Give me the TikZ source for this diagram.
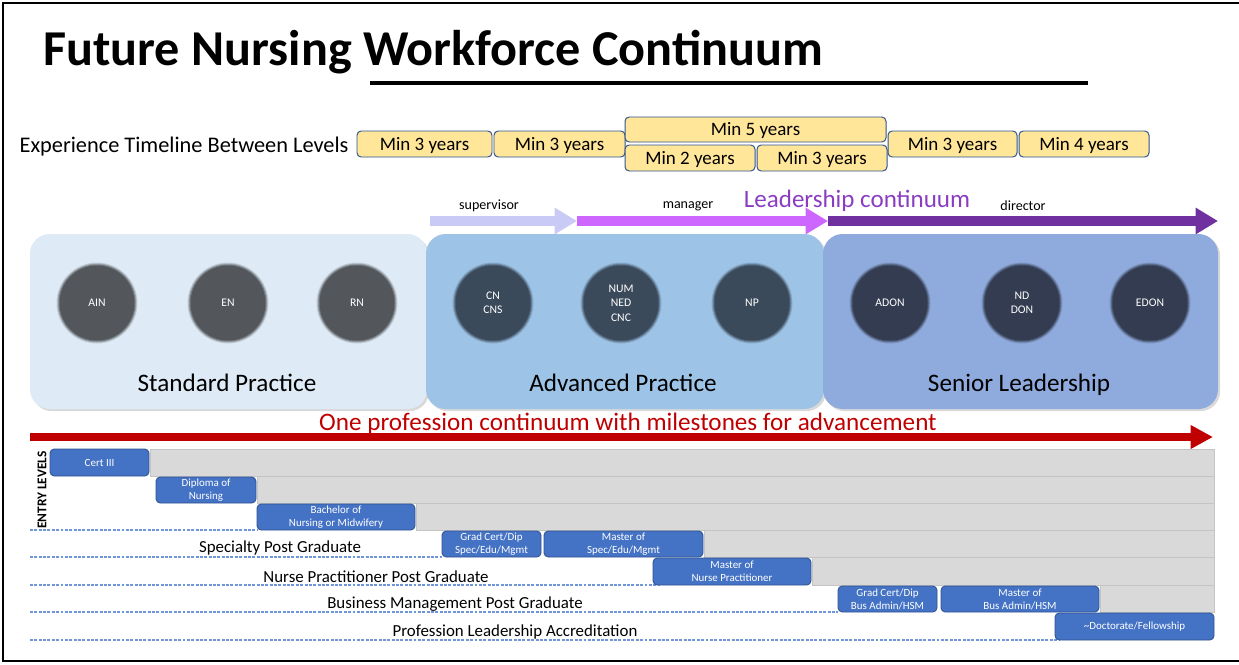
\documentclass[tikz,border=0pt]{standalone}
\usepackage{fontspec}
\setmainfont{Carlito}
\usetikzlibrary{arrows.meta,shadows,fit}

\definecolor{yearfill}{HTML}{FFE699}
\definecolor{boxline}{HTML}{2F528F}
\definecolor{stdfill}{HTML}{DEEBF7}
\definecolor{advfill}{HTML}{9DC3E6}
\definecolor{snrfill}{HTML}{8FAADC}
\definecolor{stdrole}{HTML}{53575B}
\definecolor{advrole}{HTML}{3B4A5A}
\definecolor{snrrole}{HTML}{333C50}
\definecolor{supcol}{HTML}{CACAF7}
\definecolor{mgrcol}{HTML}{CC66FF}
\definecolor{dircol}{HTML}{7030A0}
\definecolor{leadtext}{HTML}{8A3DC1}
\definecolor{profred}{HTML}{C00000}
\definecolor{coursefill}{HTML}{4472C4}
\definecolor{barfill}{HTML}{D9D9D9}
\definecolor{barline}{HTML}{C4C4C4}
\definecolor{sepblue}{HTML}{6F96D8}

\tikzset{
  % a box spanning x0..x1, y0..y1 (in picture units)
  span/.style args={#1/#2/#3/#4}{minimum width={(#3-#1)*0.25mm},
    minimum height={(#4-#2)*0.25mm}},
  yearbox/.style={draw=boxline, fill=yearfill, rounded corners=3pt, line width=0.7pt,
    inner sep=0pt, text height=11pt, text depth=2pt, font=\fontsize{13.5}{15}\selectfont},
  panel/.style={rounded corners=14pt, inner sep=0pt,
    drop shadow={shadow xshift=1.5pt, shadow yshift=-1.5pt, opacity=0.3}},
  panellabel/.style={anchor=base, inner sep=0pt, font=\fontsize{17.9}{20}\selectfont},
  role/.style={text=white, align=center, font=\fontsize{8.3}{10.3}\selectfont},
  small/.style={font=\fontsize{10}{12}\selectfont},
  levelarrow/.style={line width=7pt, -{Triangle[length=16pt,width=18pt]}},
  course/.style={draw=boxline, fill=coursefill, rounded corners=3pt, line width=0.6pt,
    text=white, align=center, inner sep=0pt, font=\fontsize{7.8}{9.2}\selectfont},
  greybar/.style={draw=barline, fill=barfill, line width=0.6pt},
  rowsep/.style={draw=sepblue, dash pattern=on 2.1pt off 1pt, line width=0.8pt},
  rowlabel/.style={font=\fontsize{12}{14}\selectfont},
}

\begin{document}
\begin{tikzpicture}[x=0.25mm,y=-0.25mm]
  \useasboundingbox (0,0) rectangle (1239,664);

  % frame and heading
  \draw[line width=2pt] (1239,3) -- (3,3) -- (3,661) -- (1239,661);
  \node[anchor=base west, inner sep=0pt, font=\fontsize{35.7}{40}\selectfont\bfseries] (title) at (43,65) {Future Nursing Workforce Continuum};
  \coordinate (ul-a) at (370,83);
  \coordinate (ul-b) at (1088,83);
  \draw[line width=3pt] (ul-a) -- (ul-b);

  % minimum years between levels
  \node[font=\fontsize{15.9}{18}\selectfont] (timeline) at (184,147) {Experience Timeline Between Levels};
  \foreach \n/\xa/\ya/\xb/\yb/\yr in {y1/357/131/492/157/3, y2/494/131/625/157/3,
      y3/625/117/886/142/5, y4/625/145/755/171/2, y5/757/145/887/171/3,
      y6/888/131/1017/157/3, y7/1019/131/1149/157/4}
    \node[yearbox, span=\xa/\ya/\xb/\yb] (\n) at ({(\xa+\xb)/2},{(\ya+\yb)/2}) {Min \yr{} years};

  % leadership arrows
  \coordinate (sup-a) at (430,221);
  \coordinate (sup-b) at (577,221);
  \coordinate (mgr-b) at (828,221);
  \coordinate (dir-b) at (1218,221);
  \draw[levelarrow, supcol] (sup-a) -- (sup-b);
  \draw[levelarrow, mgrcol] (sup-b) -- (mgr-b);
  \draw[levelarrow, dircol] (mgr-b) -- (dir-b);
  \node[small] (supervisor) at (489,206) {supervisor};
  \node[small] (manager) at (688,206) {manager};
  \node[small] (director) at (1023,206) {director};
  \node[font=\fontsize{17.8}{20}\selectfont, text=leadtext] (leadership) at (857,201) {Leadership continuum};

  % practice panels
  \node[panel, fill=stdfill, fit={(30,234) (427,409)}] (std) {};
  \node[panel, fill=advfill, fit={(426,234) (824,409)}] (adv) {};
  \node[panel, fill=snrfill, fit={(823,234) (1218,409)}] (snr) {};
  \node[panellabel] (std-l) at (227,391) {Standard Practice};
  \node[panellabel] (adv-l) at (623,391) {Advanced Practice};
  \node[panellabel] (snr-l) at (1019,391) {Senior Leadership};

  \foreach \n/\x/\c/\txt in {ain/97/stdrole/AIN, en/228/stdrole/EN, rn/357/stdrole/RN,
      cn/493/advrole/{CN\\CNS}, num/621/advrole/{NUM\\NED\\CNC}, np/752/advrole/NP,
      adon/890/snrrole/ADON, don/1022/snrrole/{ND\\DON}, edon/1150/snrrole/EDON} {
    \foreach \r/\o in {40.5/0.2, 39.5/0.35, 38.5/0.55, 37.5/1}
      \fill[\c, opacity=\o] (\x,303) circle[radius=\r];
    \node[role] (\n) at (\x,303) {\txt};
  }

  % one profession arrow
  \coordinate (prof-a) at (30,437);
  \coordinate (prof-b) at (1213,437);
  \draw[line width=5.7pt, profred, -{Triangle[length=16pt,width=16pt]}] (prof-a) -- (prof-b);
  \node[font=\fontsize{17.9}{20}\selectfont, text=profred] (prof) at (628,424) {One profession continuum with milestones for advancement};

  % qualification rows
  \foreach \y/\xe in {530/257, 557/442, 585/660, 612/838, 640/1060}
    \draw[rowsep] (30,\y) -- (\xe,\y);
  \node[rowlabel] (spec) at (280,548) {Specialty Post Graduate};
  \node[rowlabel] (nppg) at (376,577) {Nurse Practitioner Post Graduate};
  \node[rowlabel] (bus) at (455,604) {Business Management Post Graduate};
  \node[rowlabel] (acc) at (515,632) {Profession Leadership Accreditation};
  \node[rotate=90, font=\fontsize{9.5}{11}\selectfont\bfseries] (entry) at (42,490) {ENTRY LEVELS};

  \foreach \xa/\ya/\yb in {150/449/476, 257/476/503, 416/503/530, 704/530/557, 812/557/585, 1100/585/612}
    \draw[greybar] (\xa,\ya) rectangle (1214,\yb);

  \foreach \n/\xa/\ya/\xb/\yb/\txt in {cert/50/449/149/476/{Cert III},
      dip/156/477/256/503/{Diploma of\\Nursing},
      bach/257/504/415/530/{Bachelor of\\Nursing or Midwifery},
      gcspec/442/531/541/557/{Grad Cert/Dip\\Spec/Edu/Mgmt},
      mspec/544/531/703/557/{Master of\\Spec/Edu/Mgmt},
      mnp/653/558/811/585/{Master of\\Nurse Practitioner},
      gcbus/838/586/937/612/{Grad Cert/Dip\\Bus Admin/HSM},
      mbus/941/586/1099/612/{Master of\\Bus Admin/HSM},
      doc/1055/613/1214/640/{\textasciitilde Doctorate/Fellowship}}
    \node[course, span=\xa/\ya/\xb/\yb] (\n) at ({(\xa+\xb)/2},{(\ya+\yb)/2}) {\txt};
\end{tikzpicture}
\end{document}
